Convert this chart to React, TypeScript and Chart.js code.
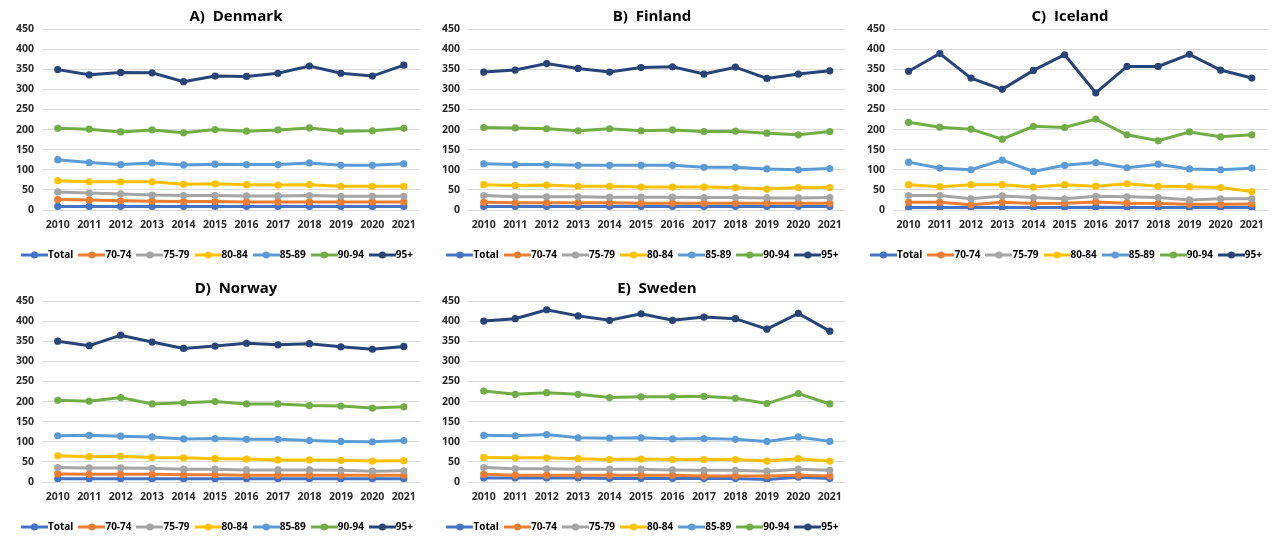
import React, { useEffect, useRef } from 'react';
import { Chart, registerables } from 'chart.js';

Chart.register(...registerables);

// ---------- data ----------
const years = ['2010', '2011', '2012', '2013', '2014', '2015', '2016', '2017', '2018', '2019', '2020', '2021'];
const seriesLabels = ['Total', '70-74', '75-79', '80-84', '85-89', '90-94', '95+'];
const yTickMin = 0;
const yTickMax = 450;
const yTickStep = 50;

const denmarkTotal = [9, 9, 9, 9, 9, 9, 9, 9, 9, 9, 9, 9];
const denmark7074 = [26, 25, 23, 22, 21, 21, 20, 20, 20, 20, 20, 20];
const denmark7579 = [45, 42, 40, 37, 36, 36, 35, 35, 36, 34, 34, 34];
const denmark8084 = [73, 70, 70, 70, 64, 65, 63, 62, 63, 59, 59, 59];
const denmark8589 = [125, 118, 113, 117, 112, 114, 113, 113, 117, 111, 111, 115];
const denmark9094 = [203, 201, 194, 199, 192, 200, 196, 199, 204, 196, 197, 203];
const denmark95 = [349, 336, 342, 341, 319, 333, 332, 340, 358, 340, 333, 360];

const finlandTotal = [9, 9, 9, 9, 9, 9, 9, 9, 9, 9, 9, 9];
const finland7074 = [19, 18, 18, 18, 18, 17, 17, 17, 17, 17, 17, 17];
const finland7579 = [36, 33, 33, 33, 32, 32, 32, 31, 31, 30, 30, 31];
const finland8084 = [63, 61, 62, 59, 59, 57, 57, 57, 56, 52, 56, 56];
const finland8589 = [115, 113, 113, 111, 111, 111, 111, 106, 106, 102, 100, 103];
const finland9094 = [205, 204, 202, 197, 202, 197, 199, 195, 196, 191, 187, 195];
const finland95 = [343, 348, 364, 352, 343, 354, 356, 338, 355, 327, 338, 346];

const icelandTotal = [6, 6, 6, 6, 6, 6, 7, 6, 6, 6, 6, 6];
const iceland7074 = [19, 19, 13, 19, 16, 17, 20, 17, 16, 14, 14, 15];
const iceland7579 = [36, 36, 28, 35, 31, 28, 34, 33, 31, 25, 28, 28];
const iceland8084 = [63, 58, 63, 63, 57, 63, 59, 65, 59, 58, 56, 46];
const iceland8589 = [119, 104, 100, 124, 96, 111, 118, 105, 114, 102, 100, 104];
const iceland9094 = [218, 206, 201, 176, 208, 205, 226, 187, 172, 194, 182, 187];
const iceland95 = [345, 389, 328, 300, 347, 386, 291, 357, 357, 387, 348, 328];

const norwayTotal = [8, 8, 8, 8, 8, 8, 8, 8, 8, 8, 8, 8];
const norway7074 = [20, 19, 19, 19, 18, 18, 17, 17, 17, 17, 17, 17];
const norway7579 = [36, 35, 35, 34, 32, 32, 30, 30, 30, 29, 27, 28];
const norway8084 = [65, 63, 64, 61, 60, 58, 57, 55, 55, 54, 52, 53];
const norway8589 = [115, 116, 114, 112, 107, 108, 106, 106, 103, 101, 100, 103];
const norway9094 = [203, 201, 210, 194, 197, 200, 194, 194, 190, 189, 184, 187];
const norway95 = [350, 339, 365, 348, 332, 338, 345, 341, 344, 336, 330, 337];

const swedenTotal = [10, 10, 10, 10, 9, 9, 9, 9, 9, 6, 12, 9];
const sweden7074 = [19, 17, 17, 17, 17, 17, 17, 15, 15, 15, 17, 15];
const sweden7579 = [36, 33, 33, 32, 32, 32, 30, 29, 29, 27, 32, 29];
const sweden8084 = [61, 60, 60, 58, 56, 57, 56, 56, 56, 52, 58, 52];
const sweden8589 = [116, 115, 118, 110, 109, 110, 107, 108, 106, 101, 112, 101];
const sweden9094 = [226, 218, 222, 218, 210, 212, 212, 213, 208, 195, 220, 194];
const sweden95 = [400, 406, 428, 413, 402, 418, 402, 410, 406, 380, 419, 375];

const panelTitles = ['A)  Denmark', 'B)  Finland', 'C)  Iceland', 'D)  Norway', 'E)  Sweden'];
const panelSeries = [
  [denmarkTotal, denmark7074, denmark7579, denmark8084, denmark8589, denmark9094, denmark95],
  [finlandTotal, finland7074, finland7579, finland8084, finland8589, finland9094, finland95],
  [icelandTotal, iceland7074, iceland7579, iceland8084, iceland8589, iceland9094, iceland95],
  [norwayTotal, norway7074, norway7579, norway8084, norway8589, norway9094, norway95],
  [swedenTotal, sweden7074, sweden7579, sweden8084, sweden8589, sweden9094, sweden95],
];

// ---------- styles / layout ----------
const seriesColors = ['#4472C4', '#ED7D31', '#A5A5A5', '#FFC000', '#5B9BD5', '#70AD47', '#264478'];
const FONT = "'Open Sans', 'DejaVu Sans', sans-serif";
const TEXT_COLOR = '#2b2b2b';
const CANVAS_H = 270;
const panelLayout = [
  { left: 0, top: 0, w: 425, yw: 28, titleX: 236 },
  { left: 425, top: 0, w: 426, yw: 29, titleX: 227 },
  { left: 850, top: 0, w: 423, yw: 29, titleX: 220 },
  { left: 0, top: 272, w: 425, yw: 28, titleX: 236 },
  { left: 425, top: 272, w: 426, yw: 29, titleX: 232 },
];

function legendIcon(color: string): HTMLCanvasElement {
  const c = document.createElement('canvas');
  c.width = 27;
  c.height = 10;
  const ctx = c.getContext('2d')!;
  ctx.strokeStyle = color;
  ctx.lineWidth = 3;
  ctx.beginPath();
  ctx.moveTo(0, 5);
  ctx.lineTo(27, 5);
  ctx.stroke();
  ctx.fillStyle = color;
  ctx.beginPath();
  ctx.arc(13.5, 5, 3.6, 0, Math.PI * 2);
  ctx.fill();
  return c;
}

function Panel({ index }: { index: number }) {
  const ref = useRef<HTMLCanvasElement | null>(null);
  const lay = panelLayout[index];
  useEffect(() => {
    const title = panelTitles[index];
    const icons = seriesColors.map((c) => legendIcon(c));
    const titlePlugin = {
      id: 'panelTitle',
      afterDraw(chart: any) {
        const ctx = chart.ctx;
        ctx.save();
        ctx.font = `bold 15px ${FONT}`;
        ctx.fillStyle = '#000000';
        ctx.textAlign = 'center';
        ctx.textBaseline = 'middle';
        ctx.fillText(title, lay.titleX, 17);
        ctx.restore();
      },
    };
    const tickFont = { family: FONT, size: 10.5, weight: 'bold' as const };
    const legendFont = { family: FONT, size: 10, weight: 'bold' as const };
    const chart = new Chart(ref.current!, {
      type: 'line',
      data: {
        labels: years,
        datasets: panelSeries[index].map((vals, i) => ({
          label: seriesLabels[i],
          data: vals,
          borderColor: seriesColors[i],
          backgroundColor: seriesColors[i],
          pointBackgroundColor: seriesColors[i],
          pointBorderColor: seriesColors[i],
          borderWidth: 3,
          pointRadius: 3.6,
          pointBorderWidth: 0,
          tension: 0,
          order: seriesLabels.length - i,
        })),
      },
      options: {
        responsive: false,
        animation: false,
        devicePixelRatio: 1,
        layout: { padding: { left: 14, right: 0, top: 29, bottom: 0 } },
        plugins: {
          title: { display: false },
          tooltip: { enabled: false },
          legend: {
            position: 'bottom',
            labels: {
              usePointStyle: true,
              pointStyleWidth: 17,
              padding: 10,
              color: TEXT_COLOR,
              font: legendFont,
              generateLabels: () =>
                seriesLabels.map((t, i) => ({
                  text: t,
                  fillStyle: seriesColors[i],
                  strokeStyle: seriesColors[i],
                  lineWidth: 0,
                  pointStyle: icons[i] as any,
                  hidden: false,
                  datasetIndex: i,
                })),
            },
          },
        },
        scales: {
          x: {
            offset: true,
            grid: { display: false, drawTicks: false },
            border: { display: false },
            ticks: { padding: 9, font: tickFont, color: TEXT_COLOR, maxRotation: 0, autoSkip: false },
            afterFit: (s: any) => {
              s.height = 30;
            },
          },
          y: {
            min: yTickMin,
            max: yTickMax,
            ticks: { stepSize: yTickStep, padding: 8, font: tickFont, color: TEXT_COLOR },
            grid: { color: '#D9D9D9', lineWidth: 1, drawTicks: false },
            border: { display: false },
            afterFit: (s: any) => {
              s.width = lay.yw;
            },
          },
        },
      },
      plugins: [titlePlugin],
    });
    return () => chart.destroy();
  }, []);
  return (
    <canvas
      ref={ref}
      width={lay.w}
      height={CANVAS_H}
      style={{ position: 'absolute', left: lay.left, top: lay.top, width: lay.w, height: CANVAS_H }}
    />
  );
}

export default function App() {
  return (
    <div
      style={{
        position: 'fixed',
        left: 0,
        top: 0,
        width: 1273,
        height: 537,
        overflow: 'hidden',
        background: '#ffffff',
      }}
    >
      {panelTitles.map((_, i) => (
        <Panel key={i} index={i} />
      ))}
    </div>
  );
}
